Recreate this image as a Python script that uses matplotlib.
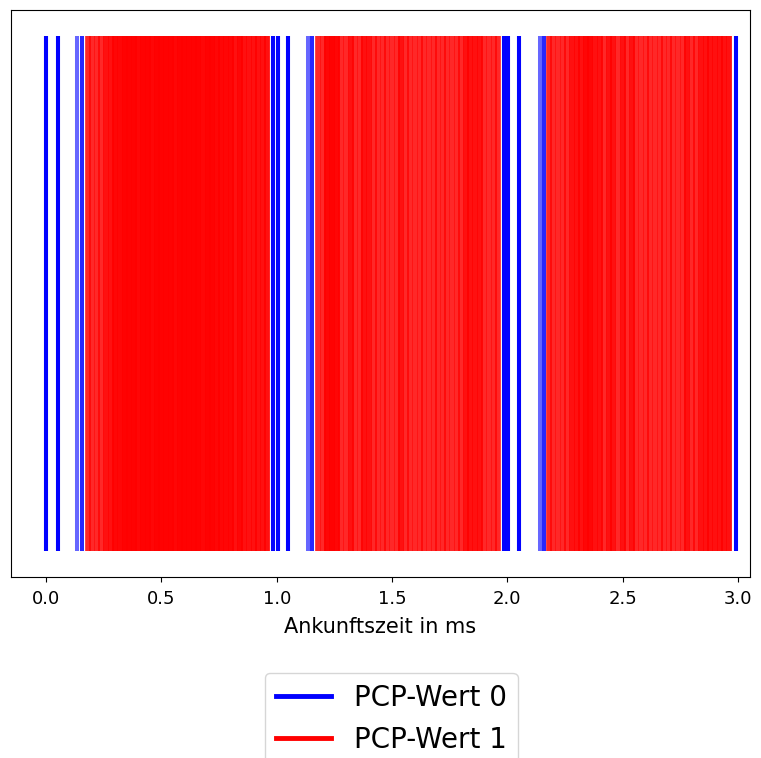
import numpy as np
import matplotlib.pyplot as plt
from matplotlib.lines import Line2D

# Ankunftszeiten der Pakete (ms) und Anzahl der Pakete pro Zeitpunkt
pcp0_zeit = [0.0, 0.05, 0.135, 0.155,
             0.985, 1.004, 1.05, 1.135, 1.153,
             1.987, 2.002, 2.052, 2.142, 2.16,
             2.99]
pcp0_anzahl = [5, 5, 1, 2,
               5, 5, 5, 1, 2,
               5, 5, 5, 1, 2,
               5]

pcp1_zeit = [0.18, 0.20, 0.22, 0.24, 0.26, 0.28, 0.30, 0.32, 0.34, 0.36,
             0.38, 0.40, 0.42, 0.44, 0.46, 0.48, 0.50, 0.52, 0.54, 0.56,
             0.58, 0.60, 0.62, 0.64, 0.66, 0.68, 0.70, 0.72, 0.74, 0.76,
             0.78, 0.80, 0.82, 0.84, 0.86, 0.88, 0.90, 0.92, 0.94, 0.96,
             1.18, 1.20, 1.22, 1.24, 1.26, 1.28, 1.30, 1.32, 1.34, 1.36,
             1.38, 1.40, 1.42, 1.44, 1.46, 1.48, 1.50, 1.52, 1.54, 1.56,
             1.58, 1.60, 1.62, 1.64, 1.66, 1.68, 1.70, 1.72, 1.74, 1.76,
             1.78, 1.80, 1.82, 1.84, 1.86, 1.88, 1.90, 1.92, 1.94, 1.96,
             2.18, 2.20, 2.22, 2.24, 2.26, 2.28, 2.30, 2.32, 2.34, 2.36,
             2.38, 2.40, 2.42, 2.44, 2.46, 2.48, 2.50, 2.52, 2.54, 2.56,
             2.58, 2.60, 2.62, 2.64, 2.66, 2.68, 2.70, 2.72, 2.74, 2.76,
             2.78, 2.80, 2.82, 2.84, 2.86, 2.88, 2.90, 2.92, 2.94, 2.96]
pcp1_anzahl = [2, 2, 2, 2, 3, 3, 4, 4, 5, 5,
               5, 4, 5, 5, 4, 5, 5, 5, 5, 4,
               5, 5, 5, 5, 5, 4, 5, 5, 4, 4,
               4, 4, 3, 4, 3, 3, 3, 3, 3, 3,
               2, 2, 4, 5, 4, 2, 2, 3, 2, 2,
               3, 3, 2, 2, 2, 2, 2, 2, 3, 2,
               2, 2, 2, 2, 2, 2, 2, 2, 2, 2,
               2, 2, 3, 3, 3, 3, 2, 2, 2, 2,
               2, 2, 2, 2, 2, 3, 3, 3, 4, 4,
               3, 3, 2, 3, 3, 2, 3, 2, 3, 2,
               2, 2, 2, 2, 2, 2, 2, 2, 2, 2,
               3, 2, 2, 3, 3, 3, 3, 3, 3, 3]

pcp_namen = ['PCP-Wert 0', 'PCP-Wert 1']
pcp_farben = ['blue', 'red']

# jedes Paket als eigener Strich
ereignisse_0 = np.repeat(pcp0_zeit, pcp0_anzahl)
ereignisse_1 = np.repeat(pcp1_zeit, pcp1_anzahl)

fig = plt.figure(figsize=(7.61, 7.58), dpi=100)
ax = fig.add_axes([0.0145, 0.2388, 0.971, 0.7480])

# beide PCP-Werte auf derselben Zeile, PCP 0 oben drauf
ax.eventplot([ereignisse_1, ereignisse_0], colors=[pcp_farben[1], pcp_farben[0]],
             lineoffsets=[1, 1], linelengths=1, linewidths=[4.0, 2.9],
             alpha=0.6, capstyle='butt')

ax.set_xlim(-0.152, 3.052)
ax.set_ylim(0.45, 1.55)
ax.set_yticks([])
ax.tick_params(axis='x', labelsize=13, pad=6)
ax.set_xlabel('Ankunftszeit in ms', fontsize=15, labelpad=6)

handles = [Line2D([0], [0], color=c, lw=3.5) for c in pcp_farben]
fig.legend(handles, pcp_namen, loc='upper center', bbox_to_anchor=(0.514, 0.131),
           fontsize=20)

fig.savefig('out.png', dpi=100)
